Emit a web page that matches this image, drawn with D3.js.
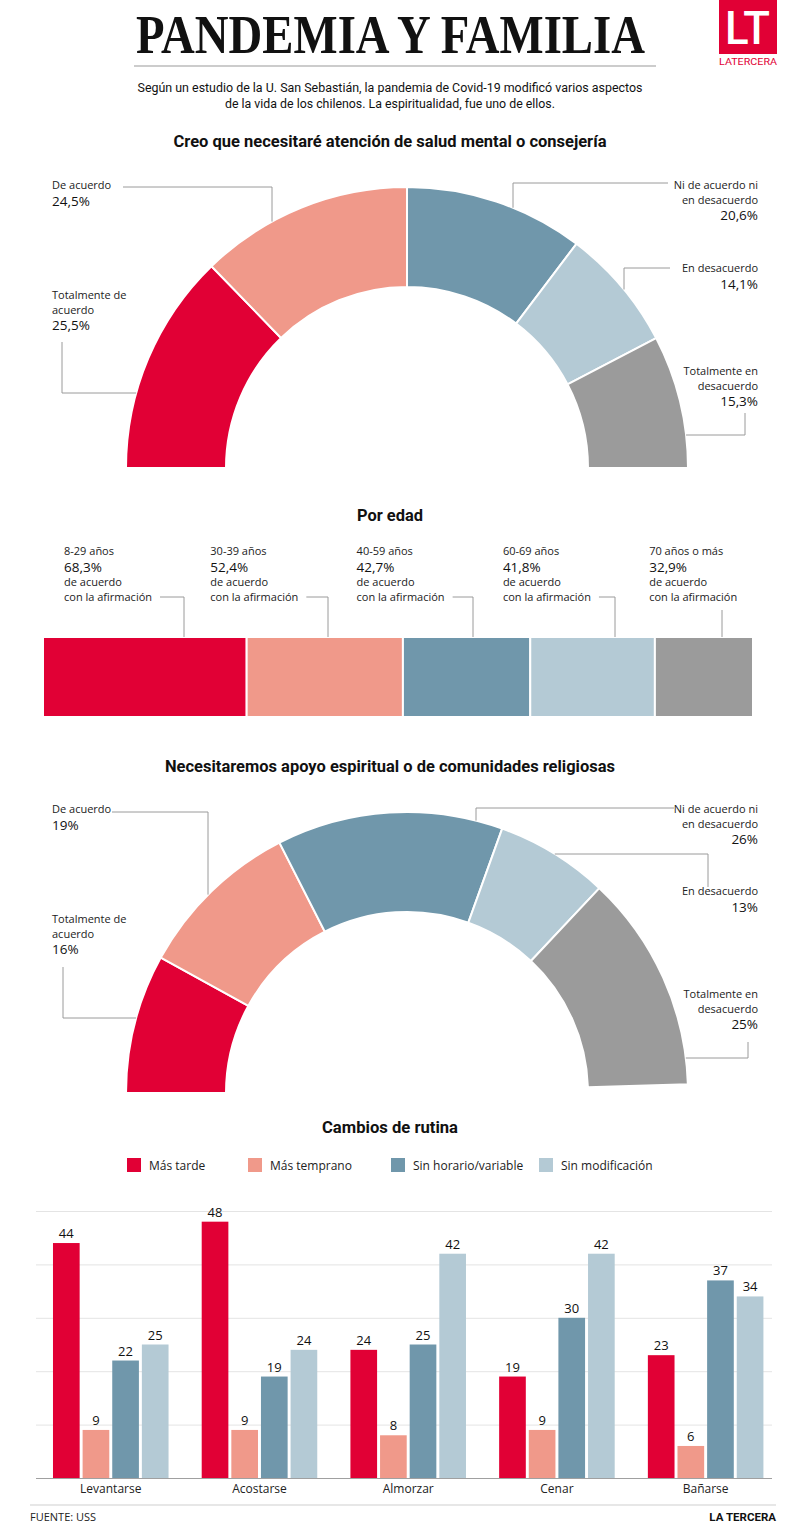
<!DOCTYPE html>
<html>
<head>
<meta charset="utf-8">
<script src="https://cdn.jsdelivr.net/npm/d3@7"></script>
<style>
  body { margin: 0; background: #fff; }
  svg { display: block; }
  text { font-family: "Open Sans", "Noto Sans", sans-serif; fill: #222; }
</style>
</head>
<body>
<svg id="chart" width="800" height="1524"></svg>
<script>
//data
var opinionLines = [["Totalmente de", "acuerdo"], ["De acuerdo"], ["Ni de acuerdo ni", "en desacuerdo"], ["En desacuerdo"], ["Totalmente en", "desacuerdo"]];
var mentalValues = [25.5, 24.5, 20.6, 14.1, 15.3];
var spiritValues = [16, 19, 26, 13, 25];

var ageGroups = ["8-29 años", "30-39 años", "40-59 años", "60-69 años", "70 años o más"];
var ageValues = [68.3, 52.4, 42.7, 41.8, 32.9];

var routines = ["Levantarse", "Acostarse", "Almorzar", "Cenar", "Bañarse"];
var routineSeries = ["Más tarde", "Más temprano", "Sin horario/variable", "Sin modificación"];
var masTarde = [44, 48, 24, 19, 23];
var masTemprano = [9, 9, 8, 9, 6];
var sinHorario = [22, 19, 25, 30, 37];
var sinModificacion = [25, 24, 42, 42, 34];
var yTicks = [0, 10, 20, 30, 40, 50];

var colors = ["#e10035", "#f0998a", "#7097ab", "#b4cad5", "#9b9b9b"];

var es = d3.formatLocale({decimal: ",", thousands: ".", grouping: [3], currency: ["", "€"]});
var fmt1 = es.format(".1f"), fmt0 = es.format("d");

var svg = d3.select("#chart");

//squeeze a text to a given width (the original uses a condensed face)
function fit(sel, w) {
  sel.attr("textLength", w).attr("lengthAdjust", "spacingAndGlyphs");
}

//header
svg.append("text")
  .attr("x", 136).attr("y", 53)
  .style("font-family", "'Liberation Serif', 'DejaVu Serif', serif")
  .style("font-weight", "bold").style("font-size", "54px").style("fill", "#111")
  .text("PANDEMIA Y FAMILIA")
  .call(fit, 509);

svg.append("line")
  .attr("x1", 134).attr("x2", 656).attr("y1", 66).attr("y2", 66)
  .attr("stroke", "#999").attr("stroke-width", 1);

//logo
svg.append("rect").attr("x", 719).attr("y", 0).attr("width", 58).attr("height", 54).attr("fill", colors[0]);
svg.append("text").attr("x", 725).attr("y", 44)
  .style("font-family", "Roboto, sans-serif").style("font-weight", 500)
  .style("font-size", "47px").style("fill", "#fff").text("LT").call(fit, 45);
svg.append("text").attr("x", 719).attr("y", 65)
  .style("font-family", "Roboto, sans-serif")
  .style("font-size", "9px").style("fill", colors[0])
  .text("LATERCERA").call(fit, 58);

var sub = ["Según un estudio de la U. San Sebastián, la pandemia de Covid-19 modificó varios aspectos",
           "de la vida de los chilenos. La espiritualidad, fue uno de ellos."];
var subW = [505, 330];
sub.forEach(function(s, i) {
  svg.append("text")
    .attr("x", 390 - subW[i] / 2).attr("y", 92 + i * 16)
    .style("font-family", "Roboto, sans-serif")
    .style("font-size", "12.5px").style("fill", "#111")
    .text(s).call(fit, subW[i]);
});

function sectionTitle(txt, y, w) {
  svg.append("text")
    .attr("x", 390 - w / 2).attr("y", y)
    .style("font-family", "Roboto, sans-serif")
    .style("font-size", "17px").style("font-weight", "bold").style("fill", "#111")
    .text(txt).call(fit, w);
}

//half donuts
var cx = 407, rOut = 281, rIn = 181;
var arc = d3.arc().innerRadius(rIn).outerRadius(rOut);

function halfDonut(values, cy, fmt, layout) {
  var pie = d3.pie().sort(null)
    .startAngle(-Math.PI / 2)
    .endAngle(-Math.PI / 2 + Math.PI * d3.sum(values) / 100);

  var g = svg.append("g").attr("transform", "translate(" + cx + "," + cy + ")");
  g.selectAll("path")
    .data(pie(values))
    .enter().append("path")
      .attr("d", arc)
      .attr("fill", function(d, i) { return colors[i]; })
      .attr("stroke", "#fff")
      .attr("stroke-width", 2);

  layout.forEach(function(l, i) {
    //leader, last point lands on the outer edge of the arc
    var pts = l.leader.slice();
    var last = pts[pts.length - 1];
    var p;
    if (l.end == "x") {
      p = [last[0], cy - Math.sqrt(rOut * rOut - (last[0] - cx) * (last[0] - cx))];
    } else {
      var dx = Math.sqrt(rOut * rOut - (cy - last[1]) * (cy - last[1]));
      p = [last[0] > cx ? cx + dx : cx - dx, last[1]];
    }
    pts.push(p);
    svg.append("path")
      .attr("d", d3.line()(pts))
      .attr("fill", "none")
      .attr("stroke", "#9a9a9a")
      .attr("stroke-width", 1);

    var lines = opinionLines[i];
    var t = svg.append("g");
    lines.forEach(function(s, j) {
      t.append("text")
        .attr("x", l.x).attr("y", l.y + j * 14.5)
        .attr("text-anchor", l.x > cx ? "end" : "start")
        .style("font-size", "11px")
        .text(s);
    });
    t.append("text")
      .attr("x", l.x).attr("y", l.y + (lines.length - 1) * 14.5 + 16.5)
      .attr("text-anchor", l.x > cx ? "end" : "start")
      .style("font-size", "13.5px").style("fill", "#111")
      .text(fmt(values[i]) + "%");
  });
}

sectionTitle("Creo que necesitaré atención de salud mental o consejería", 147, 433);
halfDonut(mentalValues, 468, fmt1, [
  {x: 52, y: 299, leader: [[62, 342], [62, 393]], end: "y"},
  {x: 52, y: 189, leader: [[123, 187], [272, 187]], end: "x"},
  {x: 758, y: 189, leader: [[668, 183], [513, 183]], end: "x"},
  {x: 758, y: 272, leader: [[670, 268], [624, 268]], end: "x"},
  {x: 758, y: 375, leader: [[745, 413], [745, 435]], end: "y"}
]);

//por edad
sectionTitle("Por edad", 521, 66);

var ax = d3.scaleLinear().domain([0, d3.sum(ageValues)]).range([43, 753]);
var ageCum = d3.cumsum(ageValues);
var barTop = 637, barH = 80;

svg.append("g").selectAll("rect")
  .data(ageValues)
  .enter().append("rect")
    .attr("x", function(d, i) { return ax(ageCum[i] - d); })
    .attr("width", function(d) { return ax(d) - ax(0); })
    .attr("y", barTop)
    .attr("height", barH)
    .attr("fill", function(d, i) { return colors[i]; })
    .attr("stroke", "#fff")
    .attr("stroke-width", 2);

var ageLeaderX = [184, 328, 473, 615, 722];
ageGroups.forEach(function(a, i) {
  var x = 64 + i * 146.3;
  svg.append("text").attr("x", x).attr("y", 555).style("font-size", "11px").text(a);
  svg.append("text").attr("x", x).attr("y", 571.5)
    .style("font-size", "13.5px").style("fill", "#111")
    .text(fmt1(ageValues[i]) + "%");
  svg.append("text").attr("x", x).attr("y", 586).style("font-size", "11px").text("de acuerdo");
  var last = svg.append("text").attr("x", x).attr("y", 600.5).style("font-size", "11px").text("con la afirmación");

  var pts;
  if (i < 4) {
    var w = last.node().getComputedTextLength();
    pts = [[x + w + 8, 597], [ageLeaderX[i], 597], [ageLeaderX[i], barTop]];
  } else {
    pts = [[ageLeaderX[i], 610], [ageLeaderX[i], barTop]];
  }
  svg.append("path")
    .attr("d", d3.line()(pts))
    .attr("fill", "none")
    .attr("stroke", "#9a9a9a")
    .attr("stroke-width", 1);
});

//spiritual
sectionTitle("Necesitaremos apoyo espiritual o de comunidades religiosas", 772, 450);
halfDonut(spiritValues, 1093, fmt0, [
  {x: 52, y: 923, leader: [[63, 967], [63, 1018]], end: "y"},
  {x: 52, y: 813, leader: [[112, 812], [208, 812]], end: "x"},
  {x: 758, y: 813, leader: [[674, 808], [476, 808]], end: "x"},
  {x: 758, y: 895, leader: [[708, 887], [708, 854]], end: "y"},
  {x: 758, y: 998, leader: [[748, 1042], [748, 1058]], end: "y"}
]);

//cambios de rutina
sectionTitle("Cambios de rutina", 1133, 136);

var legendX = [127, 248, 391, 539];
var legend = svg.selectAll(".legend")
    .data(routineSeries)
  .enter().append("g")
    .attr("class", "legend")
    .attr("transform", function(d, i) { return "translate(" + legendX[i] + ",1158)"; });

legend.append("rect")
  .attr("width", 14).attr("height", 14)
  .attr("fill", function(d, i) { return colors[i]; });

legend.append("text")
  .attr("x", 22).attr("y", 12)
  .style("font-size", "12px")
  .text(function(d) { return d; });

var seriesValues = [masTarde, masTemprano, sinHorario, sinModificacion];

var x0 = d3.scaleBand().domain(routines).range([36.4, 780]).paddingInner(0.223).paddingOuter(0.1115);
var x1 = d3.scaleBand().domain(routineSeries).range([0, x0.bandwidth()]).paddingInner(0.1);
var y = d3.scaleLinear().domain([0, 50]).range([1478, 1211]);

var grid = svg.append("g")
  .attr("transform", "translate(36,0)")
  .call(d3.axisLeft(y).tickValues(yTicks).tickSize(-736).tickFormat(""));
grid.select(".domain").remove();
grid.selectAll(".tick line")
  .attr("stroke", function(d) { return d == 0 ? "#a0a0a0" : "#e4e4e4"; })
  .attr("stroke-width", function(d) { return d == 0 ? 1.2 : 1; });

var groups = svg.append("g").selectAll("g")
  .data(routines)
  .enter().append("g")
    .attr("transform", function(d) { return "translate(" + x0(d) + ",0)"; });

groups.selectAll("rect")
  .data(function(d, gi) { return routineSeries.map(function(s, si) { return {s: s, si: si, v: seriesValues[si][gi]}; }); })
  .enter().append("rect")
    .attr("x", function(d) { return x1(d.s); })
    .attr("width", x1.bandwidth())
    .attr("y", function(d) { return y(d.v); })
    .attr("height", function(d) { return y(0) - y(d.v); })
    .attr("fill", function(d) { return colors[d.si]; });

groups.selectAll("text")
  .data(function(d, gi) { return routineSeries.map(function(s, si) { return {s: s, v: seriesValues[si][gi]}; }); })
  .enter().append("text")
    .attr("x", function(d) { return x1(d.s) + x1.bandwidth() / 2; })
    .attr("y", function(d) { return y(d.v) - 5; })
    .attr("text-anchor", "middle")
    .style("font-size", "13px").style("fill", "#111")
    .text(function(d) { return d.v; });

var xAxis = svg.append("g")
  .attr("transform", "translate(0," + y(0) + ")")
  .call(d3.axisBottom(x0).tickSize(0).tickPadding(6.5));
xAxis.select(".domain").remove();
xAxis.selectAll("text")
  .style("font-family", "'Open Sans', sans-serif")
  .style("font-size", "12px")
  .style("fill", "#222");

//footer
svg.append("line")
  .attr("x1", 30).attr("x2", 776).attr("y1", 1505).attr("y2", 1505)
  .attr("stroke", "#cfcfcf").attr("stroke-width", 1);
svg.append("text").attr("x", 30).attr("y", 1521).style("font-size", "11px").text("FUENTE: USS");
svg.append("text").attr("x", 776).attr("y", 1521).attr("text-anchor", "end")
  .style("font-family", "Roboto, sans-serif")
  .style("font-size", "11.5px").style("font-weight", "bold").style("fill", "#111").text("LA TERCERA");
</script>
</body>
</html>
